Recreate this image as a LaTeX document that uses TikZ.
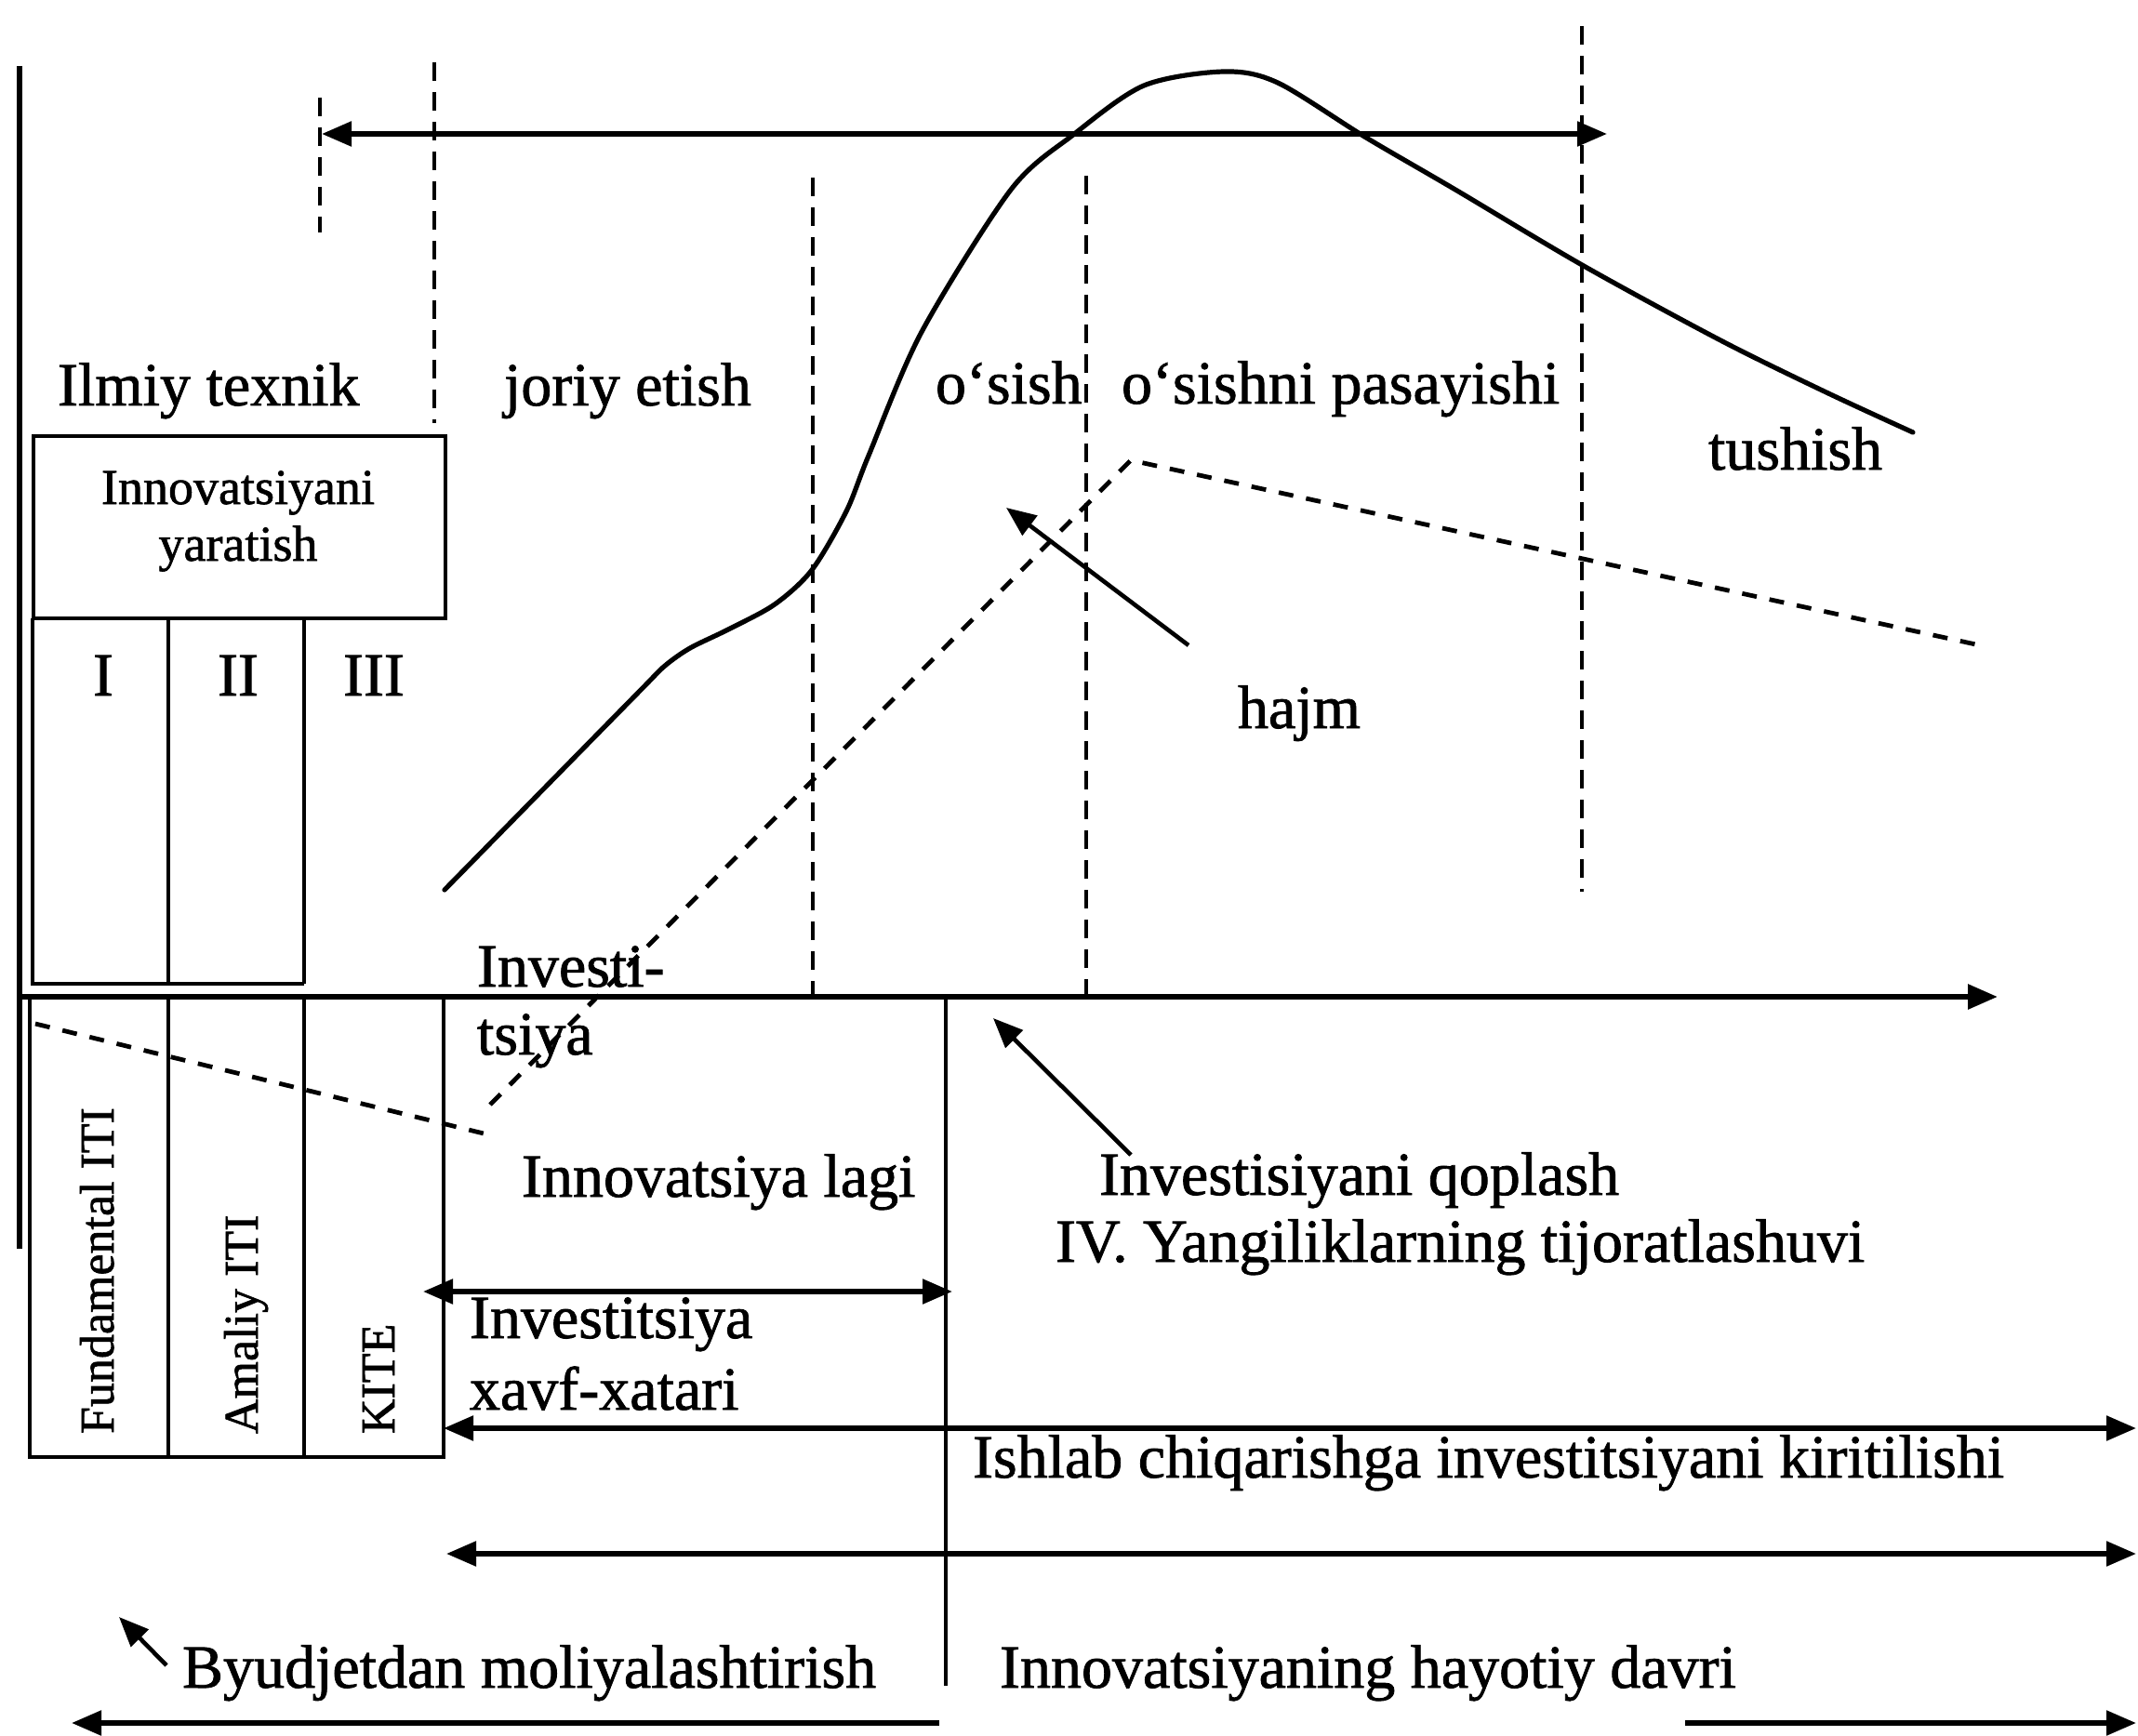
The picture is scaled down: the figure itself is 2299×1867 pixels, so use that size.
\documentclass[tikz,border=0pt]{standalone}
\usepackage{fontspec}
\setmainfont{Liberation Serif}[UprightFeatures={FakeBold=1.2}]
\usetikzlibrary{arrows.meta}
\begin{document}
\begin{tikzpicture}[x=0.5pt,y=-0.5pt,
  >={Triangle[length=16pt,width=13pt]},
  every node/.style={inner sep=0pt,outer sep=0pt},
  txt/.style={font=\fontsize{33}{37}\selectfont, anchor=base west},
  ctxt/.style={font=\fontsize{33}{37}\selectfont, anchor=base},
  boxtxt/.style={font=\fontsize{27}{30}\selectfont, anchor=base},
  rottxt/.style={font=\fontsize{26}{30}\selectfont, rotate=90, anchor=base west},
  frame/.style={line width=2.3pt},
  axisline/.style={line width=3pt},
  curveline/.style={line width=2.6pt, line join=round, line cap=round},
  vdash/.style={line width=2.4pt, dash pattern=on 10pt off 6pt},
  idash/.style={line width=2.4pt, dash pattern=on 8pt off 7pt},
  arrowline/.style={line width=2.7pt},
  thinarrow/.style={line width=2.3pt},
]
\useasboundingbox (0,0) rectangle (2299,1867);

% ---- coordinates
\coordinate (leftTop) at (21,71);
\coordinate (leftBot) at (21,1343);
\coordinate (axL) at (20,1072);
\coordinate (axR) at (2148,1072);
\coordinate (topL) at (346,144);
\coordinate (topR) at (1728,144);

% left vertical line and axis
\draw[axisline] (leftTop) -- (leftBot);
\draw[axisline,->] (axL) -- (axR);
\draw[arrowline,<->] (topL) -- (topR);

% dashed verticals
\coordinate (d1a) at (344,105); \coordinate (d1b) at (344,250);
\coordinate (d2a) at (467,67);  \coordinate (d2b) at (467,455);
\coordinate (d3a) at (874,191); \coordinate (d3b) at (874,1072);
\coordinate (d4a) at (1168,189);\coordinate (d4b) at (1168,1072);
\coordinate (d5a) at (1701,28); \coordinate (d5b) at (1701,959);
\draw[vdash] (d1a) -- (d1b);
\draw[vdash] (d2a) -- (d2b);
\draw[vdash] (d3a) -- (d3b);
\draw[vdash] (d4a) -- (d4b);
\draw[vdash] (d5a) -- (d5b);

% box Innovatsiyani yaratish
\draw[frame] (36,469) rectangle (479,665);
\node[boxtxt] (yar1) at (256,542) {Innovatsiyani};
\node[boxtxt] (yar2) at (256,603) {yaratish};

% upper columns
\draw[frame] (35,665) -- (35,1058) -- (327,1058);
\draw[frame] (181,665) -- (181,1058);
\draw[frame] (327,665) -- (327,1058);
\node[ctxt] (c1) at (111,748) {I};
\node[ctxt] (c2) at (256,748) {II};
\node[ctxt] (c3) at (402,748) {III};

% lower box
\draw[frame] (32,1072) -- (32,1567) -- (477,1567) -- (477,1072);
\draw[frame] (181,1072) -- (181,1567);
\draw[frame] (327,1072) -- (327,1567);
\node[rottxt] (fund) at (122,1542) {Fundamental ITI};
\node[rottxt] (amal) at (277,1542) {Amaliy ITI};
\node[rottxt] (kite) at (424,1542) {KITE};

% vertical solid separator
\coordinate (sepT) at (1017,1072);
\coordinate (sepB) at (1017,1813);
\draw[frame] (sepT) -- (sepB);

% sales curve
\draw[curveline] plot[smooth, tension=0.5] coordinates {
 (478,957) (583,850) (690,741) (715,716) (742,697) (783,677) (833,650)
 (873,613) (910,550) (934,490) (991,357)
 (1087,204) (1154,145) (1230,92) (1316,77) (1374,89) (1469,148)
 (1565,204) (1703,286) (1852,367) (1966,423) (2057,465)};

% investment dashed lines
\draw[idash] (38,1101) -- (520,1219);
\draw[idash] (527,1188) -- (1216,495) -- (2129,694);

% text labels
\node[txt] (ilmiy) at (62,436) {Ilmiy texnik};
\node[txt] (joriy) at (542,436) {joriy etish};
\node[txt] (osish) at (1006,434) {o‘sish};
\node[txt] (pasay) at (1206,434) {o‘sishni pasayishi};
\node[txt] (tush) at (1837,505) {tushish};
\node[txt] (hajm) at (1331,783) {hajm};
\node[txt] (inv1) at (513,1061) {Investi-};
\node[txt] (inv2) at (513,1134) {tsiya};
\node[txt] (lag) at (561,1287) {Innovatsiya lagi};
\node[txt] (qop) at (1182,1285) {Investisiyani qoplash};
\node[txt] (tij) at (1135,1357) {IV. Yangiliklarning tijoratlashuvi};
\node[txt] (xavf1) at (505,1439) {Investitsiya};
\node[txt] (xavf2) at (505,1516) {xavf-xatari};
\node[txt] (ishlab) at (1046,1589) {Ishlab chiqarishga investitsiyani kiritilishi};
\node[txt] (byud) at (196,1815) {Byudjetdan moliyalashtirish};
\node[txt] (hayot) at (1075,1815) {Innovatsiyaning hayotiy davri};

% pointer arrows
\coordinate (hajmT) at (1278,694);  \coordinate (hajmH) at (1082,546);
\coordinate (qopT) at (1216,1242);  \coordinate (qopH) at (1068,1095);
\coordinate (byT) at (179,1791);    \coordinate (byH) at (128,1739);
\draw[thinarrow,->] (hajmT) -- (hajmH);
\draw[thinarrow,->] (qopT) -- (qopH);
\draw[thinarrow,->] (byT) -- (byH);

% bottom horizontal arrows
\coordinate (a1L) at (455,1389); \coordinate (a1R) at (1024,1389);
\coordinate (a2L) at (477,1536); \coordinate (a2R) at (2297,1536);
\coordinate (a3L) at (480,1671); \coordinate (a3R) at (2297,1671);
\coordinate (a4L) at (77,1853);  \coordinate (a4M) at (1010,1853);
\coordinate (a5M) at (1812,1853); \coordinate (a5R) at (2297,1853);
\draw[arrowline,<->] (a1L) -- (a1R);
\draw[arrowline,<->] (a2L) -- (a2R);
\draw[arrowline,<->] (a3L) -- (a3R);
\draw[arrowline,<-] (a4L) -- (a4M);
\draw[arrowline,->] (a5M) -- (a5R);
\end{tikzpicture}
\end{document}
